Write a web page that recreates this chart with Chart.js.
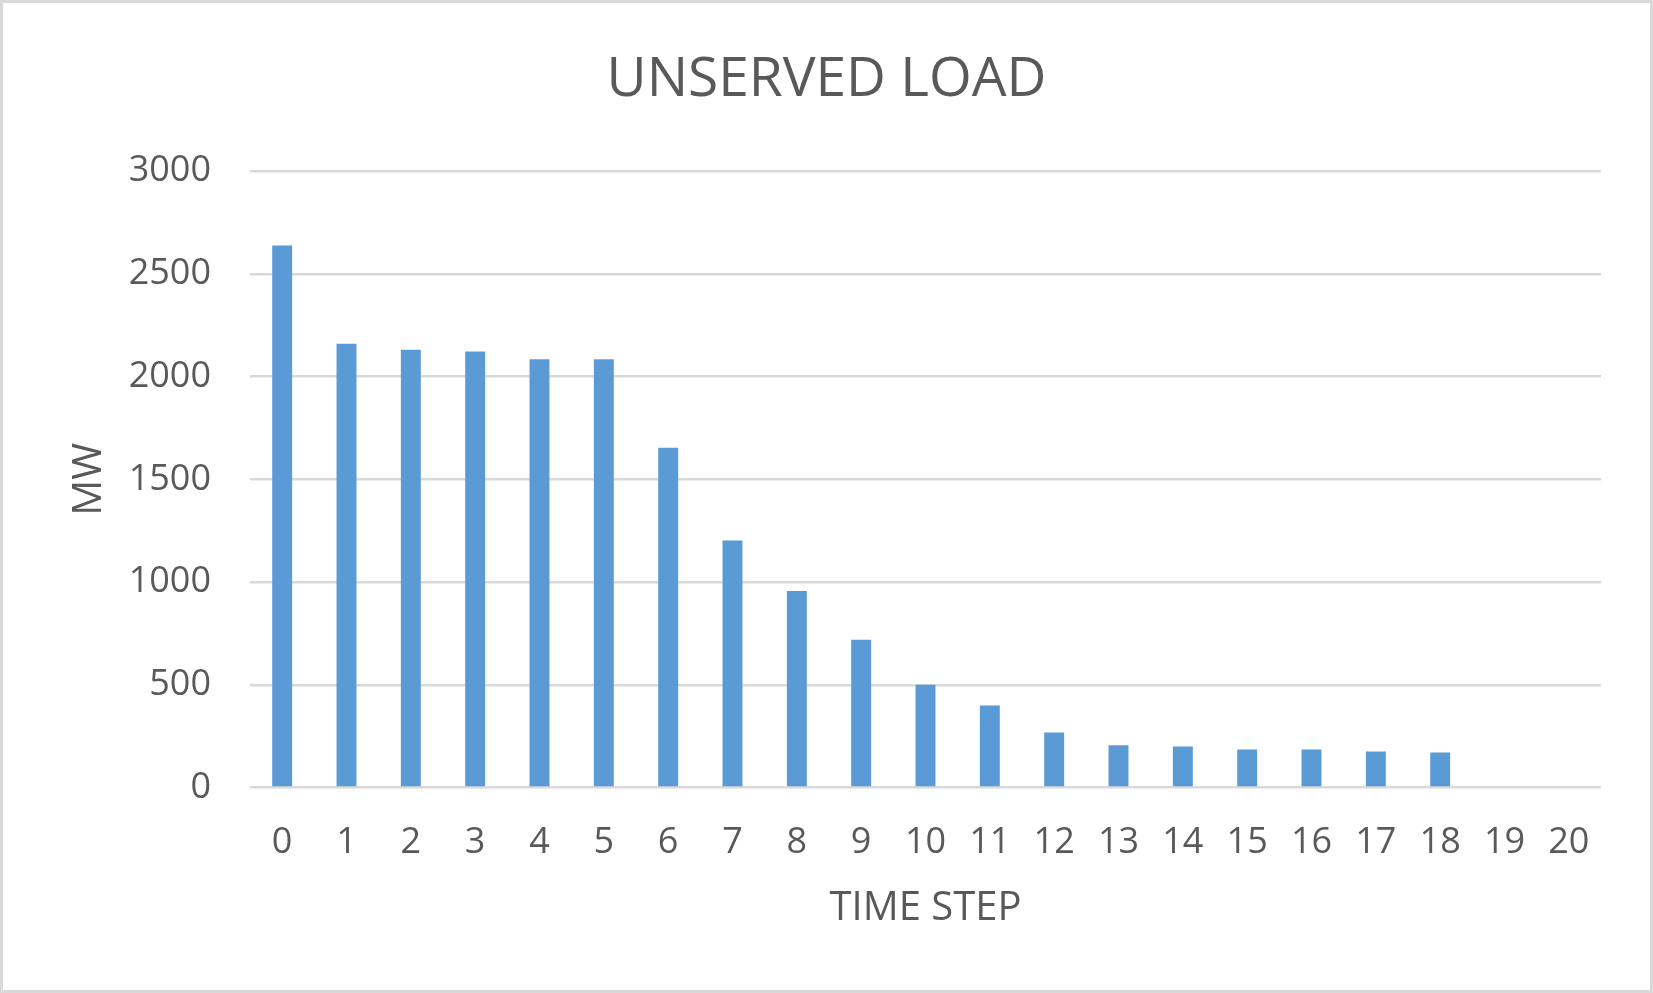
<!DOCTYPE html>
<html>
<head>
<meta charset="utf-8">
<script src="https://cdn.jsdelivr.net/npm/chart.js@4/dist/chart.umd.min.js"></script>
<style>
  html, body { margin: 0; padding: 0; background: #ffffff; }
  #wrap { width: 1653px; height: 993px; }
</style>
</head>
<body>
<div id="wrap"><canvas id="c" width="1653" height="993"></canvas></div>
<script>
const categories = ['0','1','2','3','4','5','6','7','8','9','10','11','12','13','14','15','16','17','18','19','20'];
const unservedLoad = [2638, 2159, 2130, 2122, 2084, 2084, 1653, 1202, 956, 719, 500, 399, 268, 205, 200, 185, 185, 175, 170, 0, 0];
const yTicks = [0, 500, 1000, 1500, 2000, 2500, 3000];
const chartTitle = 'UNSERVED LOAD';
const xTitle = 'TIME STEP';
const yTitle = 'MW';

const textColor = '#595959';
const gridColor = '#d9d9d9';
const fontFamily = "'Open Sans', 'Noto Sans', sans-serif";

const borderPlugin = {
  id: 'outerBorder',
  afterDraw(chart) {
    const ctx = chart.ctx;
    ctx.save();
    ctx.strokeStyle = gridColor;
    ctx.lineWidth = 3;
    ctx.strokeRect(1.5, 1.5, chart.width - 3, chart.height - 3);
    ctx.restore();
  }
};

new Chart(document.getElementById('c'), {
  type: 'bar',
  data: {
    labels: categories,
    datasets: [{
      label: 'Unserved load',
      data: unservedLoad,
      backgroundColor: '#5b9bd5',
      borderWidth: 0,
      barPercentage: 0.62,
      categoryPercentage: 0.5
    }]
  },
  options: {
    responsive: false,
    animation: false,
    devicePixelRatio: 1,
    layout: { padding: { left: 0, right: 0, top: 0, bottom: 0 } },
    plugins: {
      legend: { display: false },
      tooltip: { enabled: false },
      title: {
        display: true,
        text: chartTitle,
        color: textColor,
        font: { family: fontFamily, size: 55, weight: 'normal' },
        padding: { top: 47, bottom: 58 }
      }
    },
    scales: {
      x: {
        grid: { display: false, drawTicks: false },
        border: { display: false },
        ticks: {
          color: textColor,
          font: { family: fontFamily, size: 36 },
          padding: 34,
          maxRotation: 0,
          autoSkip: false
        },
        title: {
          display: true,
          text: xTitle,
          color: textColor,
          font: { family: fontFamily, size: 40 },
          padding: { top: 0, bottom: 60 }
        },
        afterFit(scale) { scale.height = 205.5; }
      },
      y: {
        min: 0,
        max: 3000,
        afterBuildTicks(scale) { scale.ticks = yTicks.map(v => ({ value: v })); },
        grid: { color: gridColor, lineWidth: 2.5, drawTicks: false },
        border: { display: false },
        ticks: {
          color: textColor,
          font: { family: fontFamily, size: 36 },
          padding: 39,
          callback: (v) => String(v)
        },
        title: {
          display: true,
          text: yTitle,
          color: textColor,
          font: { family: fontFamily, size: 40 },
          padding: { top: 66, bottom: 0 }
        },
        afterFit(scale) { scale.width = 250; }
      },
      rightSpace: {
        type: 'linear',
        position: 'right',
        display: true,
        grid: { display: false, drawTicks: false },
        border: { display: false },
        ticks: { display: false },
        afterFit(scale) { scale.width = 52; }
      }
    }
  },
  plugins: [borderPlugin]
});
</script>
</body>
</html>
